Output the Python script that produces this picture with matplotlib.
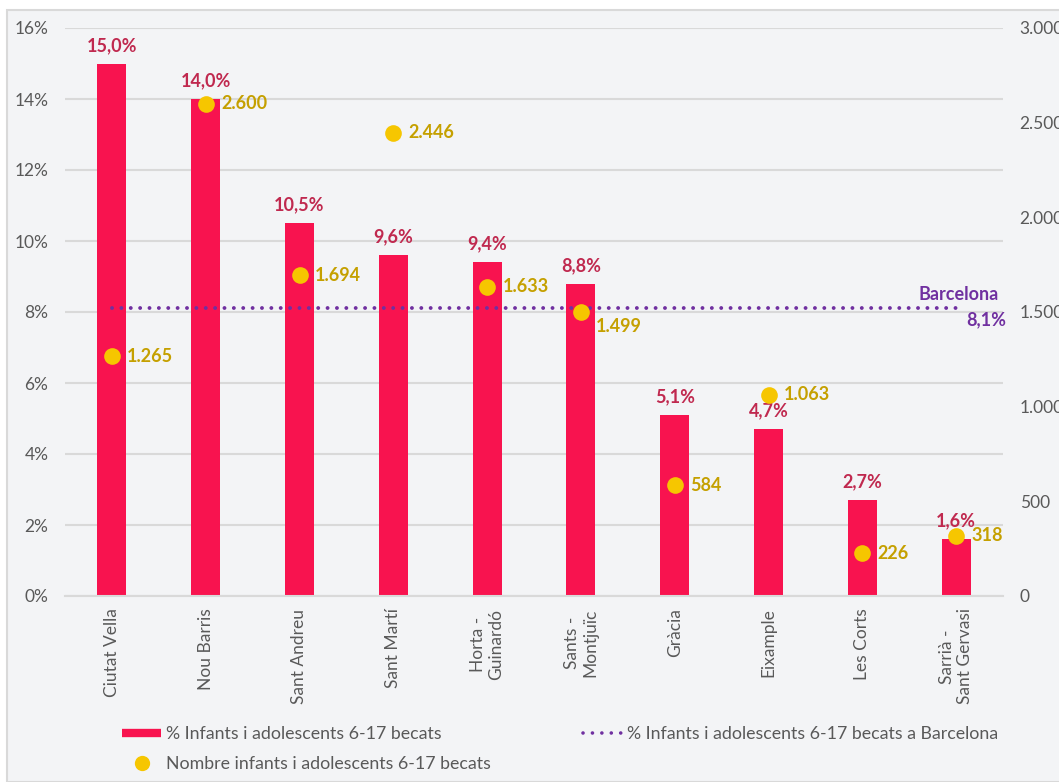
import matplotlib.pyplot as plt
from matplotlib.lines import Line2D
from matplotlib.patches import Rectangle
from matplotlib.ticker import FuncFormatter

plt.rcParams['font.family'] = ['Lato', 'DejaVu Sans']

districtes = ['Ciutat Vella', 'Nou Barris', 'Sant Andreu', 'Sant Martí', 'Horta -\nGuinardó',
              'Sants -\nMontjuïc', 'Gràcia', 'Eixample', 'Les Corts', 'Sarrià -\nSant Gervasi']
pct_becats = [15.0, 14.0, 10.5, 9.6, 9.4, 8.8, 5.1, 4.7, 2.7, 1.6]
nombre_becats = [1265, 2600, 1694, 2446, 1633, 1499, 584, 1063, 226, 318]
pct_barcelona = 8.1

c_bar = '#F8134F'
c_bar_lab = '#C0294F'
c_dot = '#F6C600'
c_dot_lab = '#C5A000'
c_bcn = '#7030A0'
c_txt = '#595959'
c_grid = '#D9D9D9'
bg = '#F3F4F6'

def fmt_miles(v):
    return f'{v:,.0f}'.replace(',', '.')

fig = plt.figure(figsize=(10.59, 7.82), dpi=100)
fig.patch.set_facecolor('white')
fig.patches.append(Rectangle((7 / 1059, 0), 1.1, (782 - 10) / 782, transform=fig.transFigure,
                             facecolor=bg, edgecolor=c_grid, linewidth=1.5, zorder=-10))

ax = fig.add_axes([65 / 1059, 1 - 596 / 782, (1003 - 65) / 1059, (596 - 28) / 782])
ax.set_facecolor('none')
x = list(range(len(districtes)))

ax.bar(x, pct_becats, width=0.31, color=c_bar, zorder=2)
for xi, v in zip(x, pct_becats):
    ax.annotate(f'{v:.1f}%'.replace('.', ','), (xi, v), xytext=(0, 7), textcoords='offset points',
                ha='center', va='bottom', color=c_bar_lab, fontsize=13, fontweight='bold')

ax.set_xlim(-0.5, 9.5)
ax.set_ylim(0, 16)
ax.set_yticks(range(0, 17, 2))
ax.yaxis.set_major_formatter(FuncFormatter(lambda v, p: f'{v:.0f}%'))
ax.grid(axis='y', color=c_grid, linewidth=1.5, zorder=0)
ax.set_axisbelow(True)
for s in ['top', 'right', 'left']:
    ax.spines[s].set_visible(False)
ax.spines['bottom'].set_color(c_grid)
ax.spines['bottom'].set_linewidth(1.5)
ax.tick_params(axis='both', length=0, colors=c_txt, labelsize=12.5)
ax.tick_params(axis='y', pad=12)
ax.tick_params(axis='x', pad=9)
ax.set_xticks(x)
ax.set_xticklabels(districtes, rotation=90, ha='center', va='top', multialignment='center')

ax2 = ax.twinx()
ax2.set_ylim(0, 3000)
ax2.set_yticks(range(0, 3001, 500))
ax2.yaxis.set_major_formatter(FuncFormatter(lambda v, p: fmt_miles(v)))
ax2.tick_params(axis='y', length=0, colors=c_txt, labelsize=12.5, pad=12)
for s in ax2.spines.values():
    s.set_visible(False)

ax2.plot([x[0], x[-1]], [pct_barcelona * 3000 / 16] * 2, color=c_bcn, linewidth=2.8,
         linestyle=(0, (0.01, 2.4)), dash_capstyle='round', zorder=3)
ax2.plot(x, nombre_becats, 'o', color=c_dot, markersize=12, markeredgewidth=0, zorder=4)
# label for Sants - Montjuic sits a bit lower so it clears the Barcelona line
for xi, v in zip(x, nombre_becats):
    dy = -10 if xi == 5 else 0
    ax2.annotate(fmt_miles(v), (xi, v), xytext=(11, dy), textcoords='offset points',
                 ha='left', va='center', color=c_dot_lab, fontsize=13, fontweight='bold')

ax2.annotate('Barcelona', (9.5, pct_barcelona * 3000 / 16), xytext=(-3, 10), textcoords='offset points',
             ha='right', va='center', color=c_bcn, fontsize=13, fontweight='bold')
ax2.annotate(f'{pct_barcelona:.1f}%'.replace('.', ','), (9.5, pct_barcelona * 3000 / 16), xytext=(2, -8),
             textcoords='offset points', ha='right', va='center', color=c_bcn, fontsize=13, fontweight='bold')

h_bar = Line2D([], [], color=c_bar, linewidth=6, solid_capstyle='butt')
h_dot = Line2D([], [], color=c_dot, marker='o', markersize=11, markeredgewidth=0, linestyle='none')
h_bcn = Line2D([], [], color=c_bcn, linewidth=2.6, linestyle=(0, (0.01, 2.6)), dash_capstyle='round')

leg1 = fig.legend([h_bar, h_dot], ['% Infants i adolescents 6-17 becats', 'Nombre infants i adolescents 6-17 becats'],
                  loc='upper left', bbox_to_anchor=(106 / 1059, 1 - 710 / 782), frameon=False,
                  fontsize=12.8, labelcolor=c_txt, handlelength=2.2, handletextpad=0.3, labelspacing=0.8)
leg2 = fig.legend([h_bcn], ['% Infants i adolescents 6-17 becats a Barcelona'],
                  loc='upper left', bbox_to_anchor=(567 / 1059, 1 - 710 / 782), frameon=False,
                  fontsize=12.8, labelcolor=c_txt, handlelength=2.2, handletextpad=0.3)

fig.savefig('out.png', dpi=100, facecolor=fig.get_facecolor())
